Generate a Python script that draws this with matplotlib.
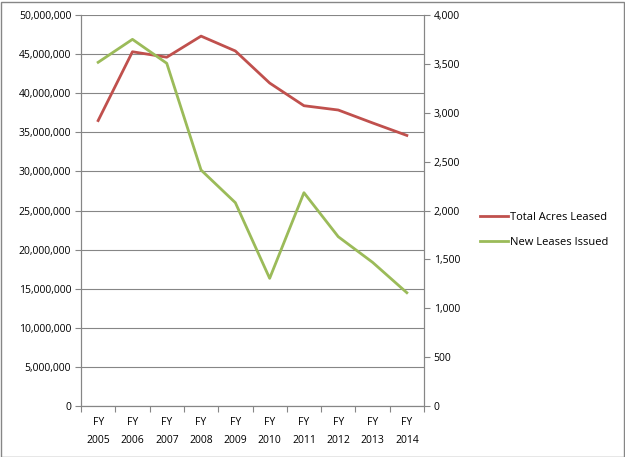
import numpy as np
import matplotlib.pyplot as plt
from matplotlib.ticker import FuncFormatter, MultipleLocator
from matplotlib.lines import Line2D
from matplotlib.patches import Rectangle

years = ["FY\n2005", "FY\n2006", "FY\n2007", "FY\n2008", "FY\n2009",
         "FY\n2010", "FY\n2011", "FY\n2012", "FY\n2013", "FY\n2014"]
acres = [36500000, 45300000, 44600000, 47300000, 45400000,
         41300000, 38400000, 37850000, 36200000, 34600000]
leases = [3516, 3751, 3506, 2414, 2080, 1306, 2182, 1732, 1470, 1159]

red = "#C0504D"
green = "#9BBB59"
grey = "#868686"

plt.rcParams['font.family'] = ['Open Sans', 'DejaVu Sans']
plt.rcParams['font.size'] = 7.5

fig = plt.figure(figsize=(6.25, 4.57), dpi=100)
ax = fig.add_axes([81/625, 51/457, 343/625, 391/457])
ax2 = ax.twinx()

x = np.arange(len(years))
ax.plot(x, acres, color=red, lw=2.0, solid_joinstyle='round', zorder=3)
ax2.plot(x, leases, color=green, lw=2.0, solid_joinstyle='round', zorder=3)

ax.set_xlim(-0.5, len(years) - 0.5)
ax.set_ylim(0, 50000000)
ax2.set_ylim(0, 4000)
ax.yaxis.set_major_locator(MultipleLocator(5000000))
ax2.yaxis.set_major_locator(MultipleLocator(500))
ax.yaxis.set_major_formatter(FuncFormatter(lambda v, p: f"{int(v):,}"))
ax2.yaxis.set_major_formatter(FuncFormatter(lambda v, p: f"{int(v):,}"))
ax.grid(axis='y', color=grey, lw=0.8)
ax.set_axisbelow(True)

# category labels between boundary tick marks
ax.set_xticks(np.arange(-0.5, len(years), 1.0))
ax.set_xticklabels([])
ax.set_xticks(x, minor=True)
ax.set_xticklabels(years, minor=True, linespacing=1.9)
ax.tick_params(axis='x', which='minor', length=0, pad=8)
ax.tick_params(axis='x', which='major', length=4, color=grey)
ax.tick_params(axis='y', length=4, color=grey, pad=3)
ax2.tick_params(axis='y', length=4, color=grey, pad=3)

for a in (ax, ax2):
    a.spines['top'].set_visible(False)
    for s in ('left', 'right', 'bottom'):
        a.spines[s].set_color(grey)
        a.spines[s].set_linewidth(0.8)

handles = [Line2D([], [], color=red, lw=2.0), Line2D([], [], color=green, lw=2.0)]
fig.legend(handles, ["Total Acres Leased", "New Leases Issued"],
           loc='center left', bbox_to_anchor=(480/625, 1 - 230/457),
           frameon=False, handlelength=2.5, handletextpad=0.2,
           labelspacing=1.3, borderpad=0, borderaxespad=0, fontsize=8)

fig.patches.append(Rectangle((0.5/625, 0.5/457), 1 - 2/625, 1 - 2/457,
                             transform=fig.transFigure, fill=False,
                             edgecolor=grey, lw=1))

fig.savefig("out.png", dpi=100)
